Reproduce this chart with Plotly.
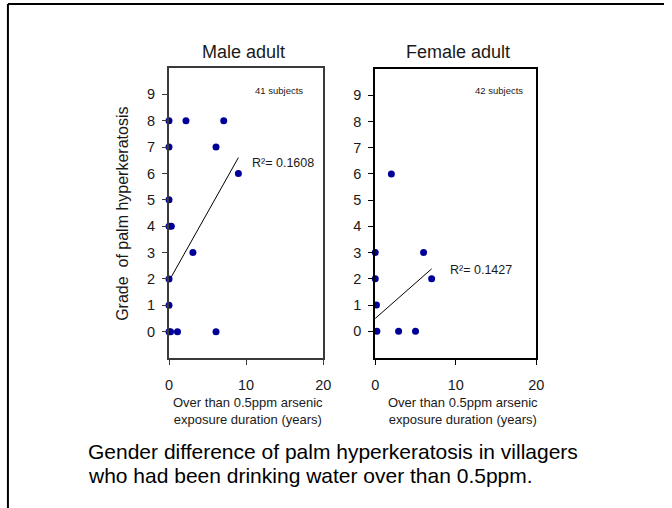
import plotly.graph_objects as go

# Exposure duration (years) and hyperkeratosis grade, visible points
male_years = [0, 2.2, 7.1, 0, 6.1, 9.0, 0, 0, 0.3, 3.1, 0, 0, 0, 0.2, 1.1, 6.1]
male_grade = [8, 8, 8, 7, 7, 6, 5, 4, 4, 3, 2, 1, 0, 0, 0, 0]
female_years = [2.0, 0, 6.0, 0, 7.0, -0.15, 0.15, -0.1, 0.2, 2.9, 5.0]
female_grade = [6, 3, 3, 2, 2, 1, 1, 0, 0, 0, 0]

# Linear trend lines: (intercept, slope, x start, x end) and R-squared
male_fit = (1.92, 0.52, 0.0, 9.0)
female_fit = (0.49, 0.27, -0.2, 7.0)
male_r2 = "0.1608"
female_r2 = "0.1427"
male_n = 41
female_n = 42

x_ticks = [0, 10, 20]
y_ticks = list(range(0, 10))

W, H = 672, 508
FONT = "Liberation Sans, Arial, sans-serif"
DOT = "#000099"


def px(x):
    return x / W


def py(y):
    return (H - y) / H


def fit_line(fit):
    b0, b1, x0, x1 = fit
    return [x0, x1], [b0 + b1 * x0, b0 + b1 * x1]


fig = go.Figure()

for years, grade, fit, xa, ya in [
    (male_years, male_grade, male_fit, "x", "y"),
    (female_years, female_grade, female_fit, "x2", "y2"),
]:
    lx, ly = fit_line(fit)
    fig.add_trace(go.Scatter(x=lx, y=ly, mode="lines", xaxis=xa, yaxis=ya,
                             line=dict(color="black", width=1),
                             hoverinfo="skip", showlegend=False))
    fig.add_trace(go.Scatter(x=years, y=grade, mode="markers", xaxis=xa, yaxis=ya,
                             marker=dict(color=DOT, size=7),
                             cliponaxis=False, showlegend=False))


def axis_style(color, domain, rng, ticks, standoff):
    return dict(domain=domain, range=rng, tickvals=ticks, showgrid=False,
                zeroline=False, showline=True, mirror=True, linecolor=color,
                linewidth=2, ticks="outside", ticklen=5, tickwidth=1,
                tickcolor=color, ticklabelstandoff=standoff,
                tickfont=dict(family=FONT, size=14.5, color="#1a1a1a"))


fig.update_layout(
    width=W, height=H,
    margin=dict(l=0, r=0, t=0, b=0),
    paper_bgcolor="white", plot_bgcolor="white",
    font=dict(family=FONT, color="#1a1a1a"),
    xaxis=axis_style("#3a3a3a", [px(168), px(325)], [0, 20], x_ticks, 8),
    yaxis=axis_style("#3a3a3a", [py(358), py(68)], [-1, 10], y_ticks, 4),
    xaxis2=dict(**axis_style("black", [px(378), px(542)], [0, 20], x_ticks, 8), anchor="y2"),
    yaxis2=dict(**axis_style("black", [py(357.5), py(69)], [-1, 10], y_ticks, 4), anchor="x2"),
)
fig.layout.xaxis.anchor = "y"
fig.layout.yaxis.anchor = "x"

x_title = "Over than 0.5ppm arsenic<br>exposure duration (years)"
notes = [
    ("Male adult", 244, 52, 18, 0),
    ("Female adult", 462, 52, 18, 0),
    ("Grade  of palm hyperkeratosis", 120, 214, 16, -90),
    (x_title, 248, 411, 13, 0),
    (x_title, 467, 411, 13, 0),
    (f"{male_n} subjects", 280, 90, 9.5, 0),
    (f"{female_n} subjects", 504, 90, 9.5, 0),
    (f"R\u00b2= {male_r2}", 284, 163, 12.5, 0),
    (f"R\u00b2= {female_r2}", 486, 270, 12.5, 0),
]
for text, x, y, size, angle in notes:
    fig.add_annotation(text=text, x=px(x), y=py(y), xref="paper", yref="paper",
                       xanchor="center", yanchor="middle", showarrow=False,
                       textangle=angle, font=dict(family=FONT, size=size, color="#1a1a1a"))

caption = [
    ("Gender difference of palm hyperkeratosis in villagers", 451),
    ("who had been drinking water over than 0.5ppm.", 475),
]
for line, y in caption:
    fig.add_annotation(text=line, x=px(83), y=py(y), xref="paper", yref="paper",
                       xanchor="left", yanchor="middle", align="left",
                       showarrow=False, font=dict(family=FONT, size=21, color="black"))

# Outer frame: top and left edges
fig.add_shape(type="line", xref="paper", yref="paper", x0=px(4), x1=1,
              y0=py(4), y1=py(4), line=dict(color="black", width=2))
fig.add_shape(type="line", xref="paper", yref="paper", x0=px(4), x1=px(4),
              y0=py(4), y1=0, line=dict(color="black", width=2))

fig.write_html("out.html")
